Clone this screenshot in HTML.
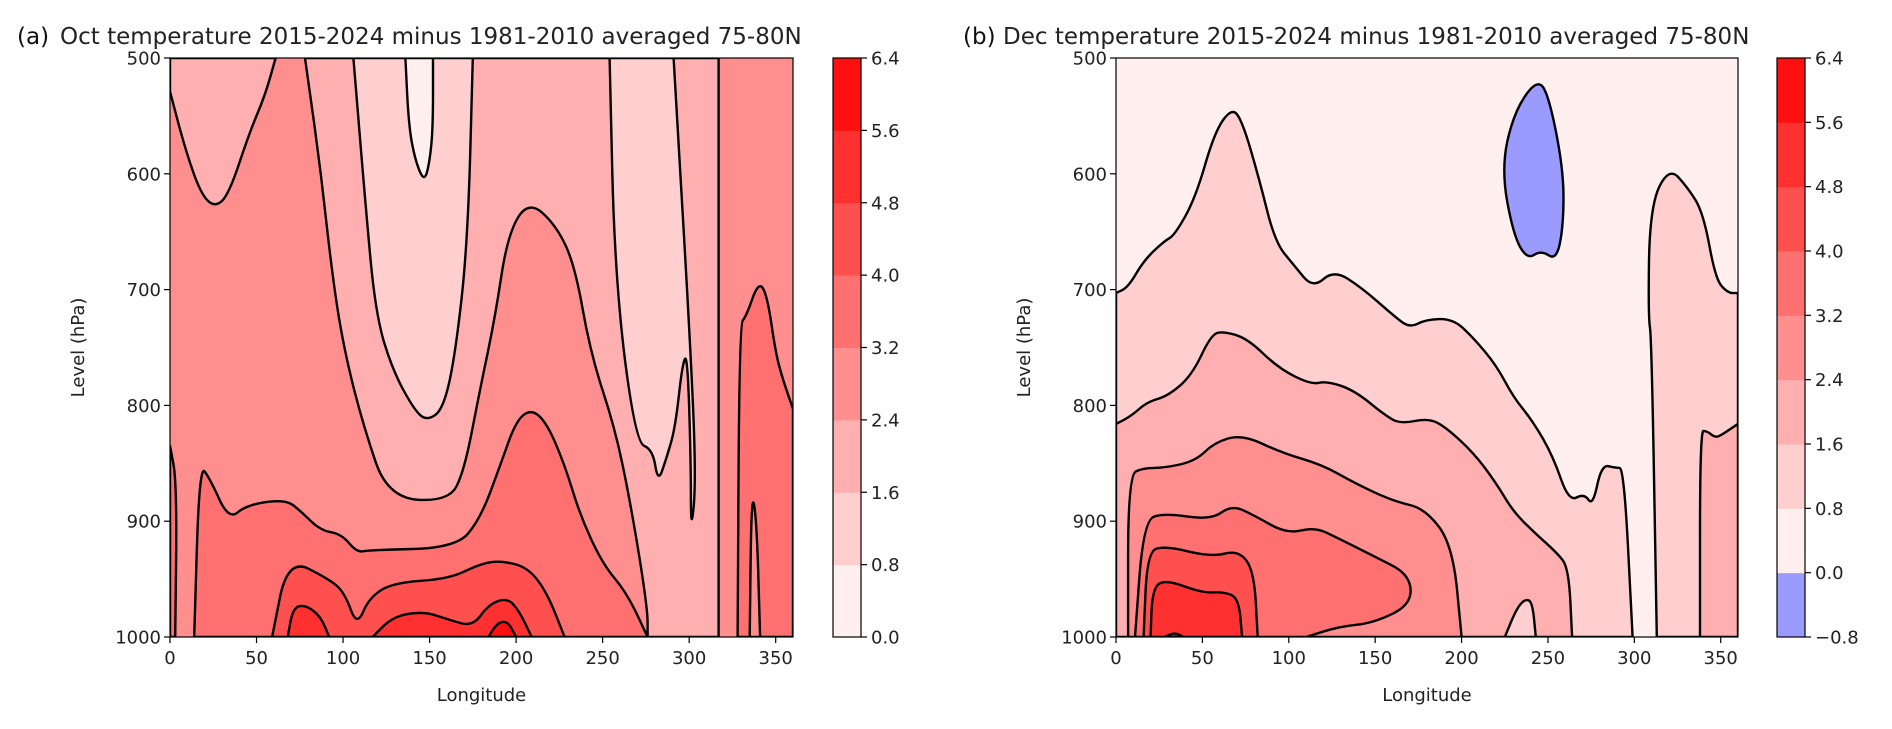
<!DOCTYPE html>
<html><head><meta charset="utf-8">
<style>
html,body{margin:0;padding:0;background:#fff;}
svg{display:block;font-family:"DejaVu Sans","Liberation Sans",sans-serif;}
</style></head>
<body>
<svg id="fig" width="1892" height="729" viewBox="0 0 1892 729" xmlns="http://www.w3.org/2000/svg"></svg>
<script>
// ---------- data ----------
const bandColors = ['#ffefef','#ffcfcf','#ffafaf','#ff8f8f','#ff7070','#ff5050','#ff3030','#ff1010'];
const blueColor = '#9a9aff';
const xTicks = [0,50,100,150,200,250,300,350];
const yTicks = [500,600,700,800,900,1000];
const cbTicksA = [0.0,0.8,1.6,2.4,3.2,4.0,4.8,5.6,6.4];
const cbTicksB = [-0.8,0.0,0.8,1.6,2.4,3.2,4.0,4.8,5.6,6.4];

// Panel (a) contour regions: [lon, hPa] vertices; band index into bandColors
const aBackground = 3;
const aLobeTopLeft = [[0,500],[0,529],[9,580],[18,618],[26,629],[34,618],[46,564],[55,532],[61,500]];
const aBand2Main = [[78,500],[87,596],[94,691],[101,755],[112,819],[126,880],[161,883],[170,857],[179,787],[188,723],[195,653],[207,623],[223,644],[234,679],[243,755],[257,819],[266,883],[276,975],[276,1000],[317,1000],[317,500]];
const aBand1Mid = [[106,500],[113,628],[119,723],[129,771],[142,806],[149,813],[158,803],[165,755],[172,660],[175,500]];
const aBand0 = [[136,500],[138,560],[142,590],[147,607],[150,590],[152,560],[152,500]];
const aBand1Right = [[254,500],[257,691],[269,832],[279,838],[282,867],[287,845],[292,819],[296,765],[299,755],[301,850],[301,911],[304,867],[301,755],[291,500]];
const aBand4Low = [[14,1000],[17,851],[23,863],[34,899],[44,886],[67,881],[76,892],[87,908],[99,911],[108,927],[115,925],[165,923],[179,899],[191,851],[200,813],[209,803],[218,816],[228,851],[237,895],[250,937],[264,962],[276,1000]];
const aBand4Edge = [[0,835],[4,867],[3,1000],[0,1000]];
const aBand5 = [[59,1000],[68,932],[92,950],[101,962],[108,991],[115,966],[129,953],[161,950],[179,937],[191,934],[207,940],[218,962],[228,1000]];
const aBand6L = [[68,1000],[71,975],[78,972],[87,982],[92,1000]];
const aBand6R = [[117,1000],[129,982],[147,978],[161,985],[175,991],[184,972],[195,966],[202,978],[209,1000]];
const aBand7 = [[184,1000],[189,988],[195,986],[200,1000]];
const aBand4Right = [[328,1000],[329,730],[333,723],[340,693],[345,704],[350,755],[354,777],[360,803],[360,1000]];
const aBand3Sliver = [[335,1000],[336,873],[339,899],[341,1000]];
const aRegions = [
  [2,aLobeTopLeft],[2,aBand2Main],[1,aBand1Mid],[0,aBand0],[1,aBand1Right],
  [4,aBand4Low],[4,aBand4Edge],[5,aBand5],[6,aBand6L],[6,aBand6R],[7,aBand7],
  [4,aBand4Right],[3,aBand3Sliver]
];

// Panel (b)
const bBackground = 0;
const bBand1Main = [[0,703],[7,698],[16,675],[28,658],[34,653],[46,621],[57,564],[67,543],[73,554],[83,605],[92,659],[103,679],[114,699],[126,683],[142,698],[161,723],[170,733],[179,726],[195,725],[207,742],[220,765],[230,793],[241,813],[253,844],[262,883],[271,876],[276,887],[281,851],[289,854],[294,854],[299,1000],[0,1000]];
const bBand1Right = [[313,1000],[310,742],[308,723],[309,628],[320,594],[331,612],[340,634],[347,691],[354,703],[360,703],[360,1000]];
const bBand2Right = [[338,1000],[338,822],[342,822],[347,828],[351,825],[360,816],[360,1000]];
const bBand2Main = [[0,816],[9,809],[18,797],[30,792],[44,774],[55,739],[62,736],[76,742],[94,768],[113,782],[122,779],[138,787],[156,809],[165,816],[181,811],[191,819],[207,841],[220,867],[230,892],[243,911],[255,927],[262,940],[264,1000],[0,1000]];
const bBand1Bump = [[225,1000],[232,975],[237,967],[241,970],[243,1000]];
const bBand3 = [[7,1000],[7,860],[16,854],[28,854],[46,848],[57,832],[73,825],[96,841],[119,851],[138,867],[161,883],[179,889],[195,921],[200,1000]];
const bBand4 = [[11,1000],[16,899],[28,893],[55,899],[67,886],[80,895],[99,911],[115,905],[129,915],[149,930],[170,946],[171,972],[149,988],[129,991],[110,1000]];
const bBand5 = [[16,1000],[18,927],[28,921],[55,931],[71,925],[80,943],[82,1000]];
const bBand6 = [[20,1000],[21,959],[28,950],[50,962],[62,961],[71,966],[73,1000]];
const bBand7 = [[28,1000],[34,996],[39,1000]];
const bBlue = [[223,596],[230,548],[243,519],[250,529],[259,596],[259,644],[255,675],[246,666],[238,674],[230,653]];
const bRegions = [
  [1,bBand1Main],[1,bBand1Right],[2,bBand2Right],[2,bBand2Main],[1,bBand1Bump],
  [3,bBand3],[4,bBand4],[5,bBand5],[6,bBand6],[7,bBand7],[-1,bBlue]
];

// ---------- drawing ----------
const NS='http://www.w3.org/2000/svg';
const svg=document.getElementById('fig');
function mk(tag,attrs,parent){const e=document.createElementNS(NS,tag);for(const k in attrs)e.setAttribute(k,attrs[k]);(parent||svg).appendChild(e);return e;}
function col(b){return b<0?blueColor:bandColors[b];}
function onEdge(p){return p[0]<=0||p[0]>=360||p[1]<=500||p[1]>=1000;}

function smoothPath(pts,x,y){
  const n=pts.length;
  const P=pts.map(p=>[x(p[0]),y(p[1])]);
  const mid=(i,j)=>[(P[i][0]+P[j][0])/2,(P[i][1]+P[j][1])/2];
  const f=q=>q[0].toFixed(1)+','+q[1].toFixed(1);
  let d='M'+f(mid(n-1,0));
  for(let i=0;i<n;i++){
    const m=mid(i,(i+1)%n);
    if(onEdge(pts[i])) d+='L'+f(P[i])+'L'+f(m);
    else d+='Q'+f(P[i])+' '+f(m);
  }
  return d+'Z';
}

function panel(cfg){
  const L=cfg.left,R=cfg.right,T=58,B=637;
  const x=v=>L+(v/360)*(R-L);
  const y=p=>T+((p-500)/500)*(B-T);
  const g=mk('g',{});
  
  
  const cid='clip-'+cfg.id;
  const cp=mk('clipPath',{id:cid},g);
  mk('rect',{x:L,y:T,width:R-L,height:B-T},cp);
  const plot=mk('g',{'clip-path':'url(#'+cid+')'},g);
  const bg=mk('rect',{x:L,y:T,width:R-L,height:B-T,fill:col(cfg.bg)},plot);
  
  
  cfg.regions.forEach(r=>{
    const pa=mk('path',{d:smoothPath(r[1],x,y),fill:col(r[0]),stroke:'#000','stroke-width':2.4,'stroke-linejoin':'round'},plot);
    
    
  });
  const fr=mk('rect',{x:L,y:T,width:R-L,height:B-T,fill:'none',stroke:'#000','stroke-width':1.2},g);
  
  
  xTicks.forEach(v=>{
    mk('line',{x1:x(v),x2:x(v),y1:B,y2:B+6,stroke:'#000','stroke-width':1.2},g);
    const t=mk('text',{x:x(v),y:B+27,'font-size':18,'text-anchor':'middle',fill:'#222'},g);
    t.textContent=v;
    
    
  });
  yTicks.forEach(v=>{
    mk('line',{x1:L-6,x2:L,y1:y(v),y2:y(v),stroke:'#000','stroke-width':1.2},g);
    const t=mk('text',{x:L-9,y:y(v)+6.5,'font-size':18,'text-anchor':'end',fill:'#222'},g);
    t.textContent=v;
    
    
  });
  const xl=mk('text',{x:(L+R)/2,y:701,'font-size':18,'text-anchor':'middle',fill:'#222'},g);
  xl.textContent='Longitude';
  
  
  const yl=mk('text',{x:0,y:0,'font-size':18,'text-anchor':'middle',fill:'#222',transform:'translate('+(cfg.ylx)+','+((T+B)/2)+') rotate(-90)'},g);
  yl.textContent='Level (hPa)';
  
  
  const pl=mk('text',{x:cfg.lblx,y:44,'font-size':23,fill:'#111'},g);
  pl.textContent=cfg.label;
  
  
  const ti=mk('text',{x:cfg.titx,y:44,'font-size':23,fill:'#222'},g);
  ti.textContent=cfg.title;
  
  
  const cb=mk('g',{},g);
  
  
  const ticks=cfg.cbTicks, n=ticks.length-1, h=(B-T)/n;
  const cy=i=>B-i*h;
  for(let i=0;i<n;i++){
    const band=cfg.cbStart+i;
    const r=mk('rect',{x:cfg.cbx,y:cy(i+1),width:28,height:h+0.5,fill:col(band)},cb);
    
    
  }
  mk('rect',{x:cfg.cbx,y:T,width:28,height:B-T,fill:'none',stroke:'#000','stroke-width':1.2},cb);
  ticks.forEach((v,i)=>{
    mk('line',{x1:cfg.cbx+28,x2:cfg.cbx+34,y1:cy(i),y2:cy(i),stroke:'#000','stroke-width':1.2},cb);
    const t=mk('text',{x:cfg.cbx+38,y:cy(i)+6.5,'font-size':18,fill:'#222'},cb);
    t.textContent=(v<0?'\u2212'+Math.abs(v).toFixed(1):v.toFixed(1));
    
    
  });
}

panel({id:'a',name:'panel-a',left:170,right:793,bg:aBackground,regions:aRegions,ylx:84,lblx:17,titx:60,
  label:'(a)',title:'Oct temperature 2015-2024 minus 1981-2010 averaged 75-80N',cbx:833,cbTicks:cbTicksA,cbStart:0});
panel({id:'b',name:'panel-b',left:1116,right:1738,bg:bBackground,regions:bRegions,ylx:1030,lblx:963,titx:1003,
  label:'(b)',title:'Dec temperature 2015-2024 minus 1981-2010 averaged 75-80N',cbx:1777,cbTicks:cbTicksB,cbStart:-1});
</script>
</body></html>
